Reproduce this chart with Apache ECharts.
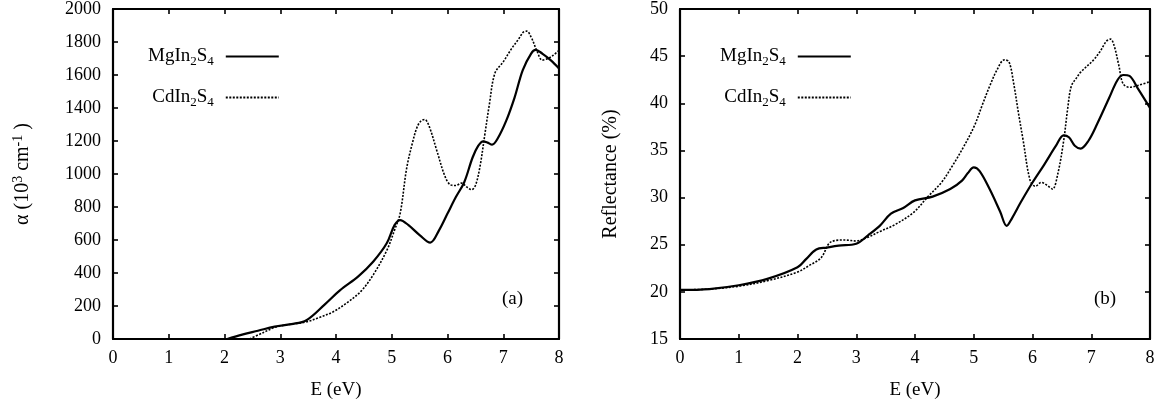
<!DOCTYPE html>
<html>
<head>
<meta charset="utf-8">
<script src="https://cdn.jsdelivr.net/npm/echarts@6/dist/echarts.min.js"></script>
<style>
html,body{margin:0;padding:0;background:#fff;}
#chart{width:1163px;height:407px;}
</style>
</head>
<body>
<div id="chart"></div>
<script>
// ---- data ----
const xTicks = [0,1,2,3,4,5,6,7,8];
const seriesNames = ['MgIn2S4','CdIn2S4'];

// (a) absorption coefficient, 10^3 cm^-1
const aE_Mg = [2.05,2.3,2.6,2.9,3.2,3.47,3.8,4.07,4.4,4.67,4.91,5.05,5.15,5.3,5.5,5.69,5.85,6.0,6.15,6.3,6.45,6.55,6.64,6.72,6.8,6.9,7.05,7.2,7.35,7.5,7.58,7.7,7.85,8.0];
const aMg   = [0,25,50,75,90,114,210,295,380,470,580,690,721,690,630,584,660,760,860,950,1100,1170,1198,1190,1178,1215,1320,1460,1630,1730,1752,1730,1690,1640];
const aE_Cd = [2.45,2.7,2.9,3.1,3.47,3.7,3.95,4.2,4.45,4.67,4.91,5.05,5.15,5.27,5.38,5.45,5.52,5.59,5.67,5.81,5.95,6.05,6.15,6.25,6.35,6.43,6.5,6.58,6.67,6.75,6.85,7.0,7.15,7.28,7.36,7.42,7.5,7.6,7.7,7.8,7.9,8.0];
const aCd   = [0,40,70,85,104,130,165,220,290,390,536,660,760,1040,1200,1280,1320,1330,1290,1140,990,935,930,945,920,905,930,1040,1240,1420,1610,1680,1760,1820,1860,1866,1830,1750,1690,1700,1720,1750];

// (b) reflectance, %
const rE_Mg = [0,0.5,1,1.5,2,2.15,2.32,2.5,2.7,3.0,3.2,3.4,3.59,3.8,4.0,4.3,4.6,4.8,4.9,5.0,5.1,5.27,5.45,5.56,5.65,5.8,6.0,6.2,6.4,6.53,6.62,6.72,6.82,6.95,7.1,7.3,7.45,7.55,7.65,7.8,8.0];
const rMg   = [20.2,20.3,20.7,21.4,22.6,23.5,24.5,24.7,24.9,25.1,26,27,28.3,28.9,29.7,30.1,30.9,31.8,32.6,33.2,32.8,30.9,28.5,27,27.8,29.5,31.6,33.5,35.5,36.6,36.4,35.5,35.2,36,37.8,40.5,42.5,43,42.9,41.5,39.5];
const rE_Cd = [0,0.5,1,1.5,2,2.2,2.4,2.57,2.8,3.0,3.2,3.4,3.65,3.97,4.22,4.45,4.63,4.82,5.01,5.15,5.27,5.4,5.52,5.6,5.68,5.76,5.84,5.96,6.05,6.15,6.25,6.34,6.43,6.53,6.6,6.66,6.75,6.82,7.04,7.15,7.26,7.33,7.39,7.47,7.54,7.65,7.8,8.0];
const rCd   = [20.2,20.3,20.6,21.2,22.1,22.8,23.6,25.3,25.5,25.4,25.8,26.4,27.1,28.4,30.1,31.6,33.3,35.3,37.6,39.9,41.8,43.6,44.6,44.4,42.1,39,36.1,31.8,31.2,31.6,31.3,30.9,32.5,36,39.5,41.8,42.7,43.3,44.6,45.5,46.6,46.8,46.1,44,42.1,41.7,41.9,42.3];

// ---- chart ----
const FONT = '"Liberation Serif", "DejaVu Serif", serif';
const pairs = (xs, ys) => xs.map((x, i) => [x, ys[i]]);
const legendFmt = name => name.replace(/(\d)/g, '{s|$1}');

function xAx(gi, pos, showLabel, name) {
  return {
    type: 'value', gridIndex: gi, position: pos, min: 0, max: 8, interval: 1,
    name: name || '', nameLocation: 'middle', nameGap: 42,
    nameTextStyle: {fontFamily: FONT, fontSize: 19, color: '#000'},
    axisLine: {show: true, onZero: false, lineStyle: {color: '#000', width: 2.2}},
    axisTick: {show: true, inside: true, length: 5, lineStyle: {color: '#000', width: 1.6}},
    axisLabel: {show: showLabel, fontFamily: FONT, fontSize: 18, color: '#000', margin: 10,
      formatter: v => String(v)},
    splitLine: {show: false}
  };
}
function yAx(gi, pos, showLabel, min, max, interval, name, gap, rich) {
  return {
    type: 'value', gridIndex: gi, position: pos, min: min, max: max, interval: interval,
    name: name || '', nameLocation: 'middle', nameGap: gap || 50,
    nameTextStyle: {fontFamily: FONT, fontSize: 20, color: '#000', rich: rich || {}},
    axisLine: {show: true, onZero: false, lineStyle: {color: '#000', width: 2.2}},
    axisTick: {show: true, inside: true, length: 5, lineStyle: {color: '#000', width: 1.6}},
    axisLabel: {show: showLabel, fontFamily: FONT, fontSize: 18, color: '#000', margin: 12,
      formatter: v => String(v)},
    splitLine: {show: false}
  };
}
function lineSeries(name, xi, yi, data, dotted) {
  return {
    type: 'line', name: name, xAxisIndex: xi, yAxisIndex: yi, data: data,
    smooth: 0.35, symbol: 'none', animation: false,
    lineStyle: dotted ? {color: '#000', width: 1.6, type: [2, 1.5]} : {color: '#000', width: 2.2, type: 'solid'},
    itemStyle: {color: '#000'}
  };
}
function legendAt(left) {
  return {
    data: seriesNames, orient: 'vertical', left: left, top: 42, align: 'right',
    itemWidth: 53, itemHeight: 14, itemGap: 20, selectedMode: false,
    itemStyle: {opacity: 0},
    formatter: legendFmt,
    textStyle: {fontFamily: FONT, fontSize: 19, color: '#000', padding: [0, 7, 0, 0],
      rich: {s: {fontFamily: FONT, fontSize: 13, color: '#000', padding: [10, 0, 0, 0]}}}
  };
}
const supRich = {sup: {fontFamily: FONT, fontSize: 14, color: '#000', padding: [0, 0, 10, 0]}};

const chart = echarts.init(document.getElementById('chart'), null, {renderer: 'canvas'});
chart.setOption({
  animation: false,
  backgroundColor: '#fff',
  grid: [
    {left: 113, top: 7, width: 446, height: 332},
    {left: 680, top: 7, width: 470, height: 332}
  ],
  xAxis: [
    xAx(0, 'bottom', true, 'E (eV)'),
    xAx(0, 'top', false),
    xAx(1, 'bottom', true, 'E (eV)'),
    xAx(1, 'top', false)
  ],
  yAxis: [
    yAx(0, 'left', true, 0, 2000, 200, 'α (10{sup|3} cm{sup|-1} )', 78, supRich),
    yAx(0, 'right', false, 0, 2000, 200),
    yAx(1, 'left', true, 15, 50, 5, 'Reflectance (%)', 59),
    yAx(1, 'right', false, 15, 50, 5)
  ],
  legend: [legendAt(143), legendAt(715)],
  series: [
    lineSeries(seriesNames[0], 0, 0, pairs(aE_Mg, aMg), false),
    lineSeries(seriesNames[1], 0, 0, pairs(aE_Cd, aCd), true),
    lineSeries(seriesNames[0], 2, 2, pairs(rE_Mg, rMg), false),
    lineSeries(seriesNames[1], 2, 2, pairs(rE_Cd, rCd), true)
  ],
  graphic: [
    {type: 'text', left: 502, top: 290, style: {text: '(a)', fontFamily: FONT, fontSize: 19, fill: '#000'}},
    {type: 'text', left: 1094, top: 290, style: {text: '(b)', fontFamily: FONT, fontSize: 19, fill: '#000'}}
  ]
});
</script>
</body>
</html>
